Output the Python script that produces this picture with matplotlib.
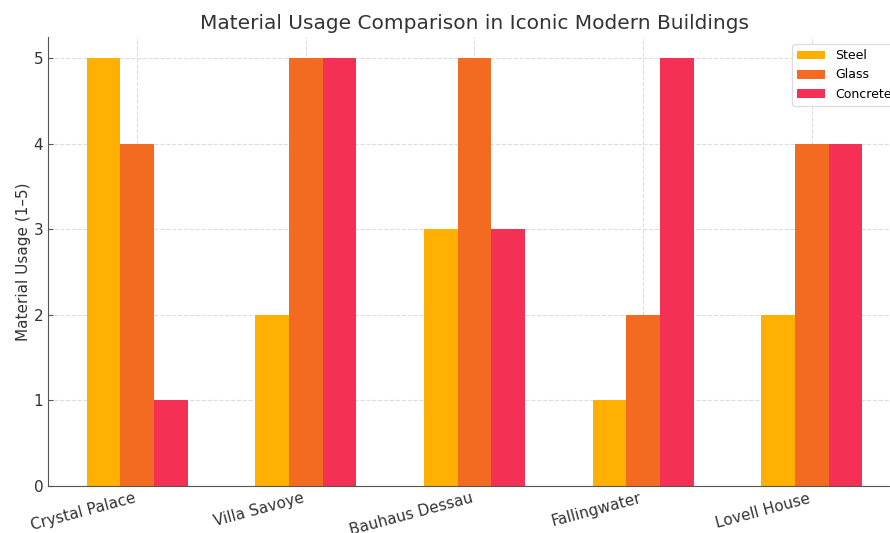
import matplotlib
matplotlib.use("Agg")
import matplotlib.pyplot as plt
import numpy as np

buildings = ["Crystal Palace", "Villa Savoye", "Bauhaus Dessau", "Fallingwater", "Lovell House"]
steel = [5, 2, 3, 1, 2]
glass = [4, 5, 5, 2, 4]
concrete = [1, 5, 3, 5, 4]

series = [("Steel", steel, "#FFB000"), ("Glass", glass, "#F26B21"), ("Concrete", concrete, "#F43154")]

W, H = 890, 533
fig = plt.figure(figsize=(W / 100, H / 100), dpi=100)
ax = fig.add_axes([48 / W, 47 / H, 853 / W, 449 / H])

x = np.arange(len(buildings))
width = 0.2
for i, (name, vals, color) in enumerate(series):
    ax.bar(x + (i - 1) * width, vals, width, label=name, color=color, zorder=2)

ax.set_xticks(x)
ax.set_xticklabels(buildings, rotation=15, ha="right", fontsize=11, color="#333333")
ax.tick_params(direction="in", colors="#555555", labelsize=11)
ax.tick_params(axis="y", labelcolor="#333333")
ax.tick_params(axis="x", labelcolor="#333333")
ax.set_ylabel("Material Usage (1–5)", fontsize=11, color="#333333", labelpad=2)
ax.set_title("Material Usage Comparison in Iconic Modern Buildings", fontsize=14.5, color="#333333", pad=6)
ax.set_yticks(range(0, 6))
ax.grid(True, linestyle="--", color="#dddddd", linewidth=0.8, zorder=0)
ax.set_axisbelow(True)
for s in ("top", "right"):
    ax.spines[s].set_visible(False)
for s in ("left", "bottom"):
    ax.spines[s].set_color("#555555")

ax.legend(loc="upper left", bbox_to_anchor=(786 / W, 1 - 38 / H), bbox_transform=fig.transFigure,
          fontsize=9, framealpha=1, edgecolor="#dddddd", handlelength=2.2)

fig.savefig("out.png", dpi=100)
